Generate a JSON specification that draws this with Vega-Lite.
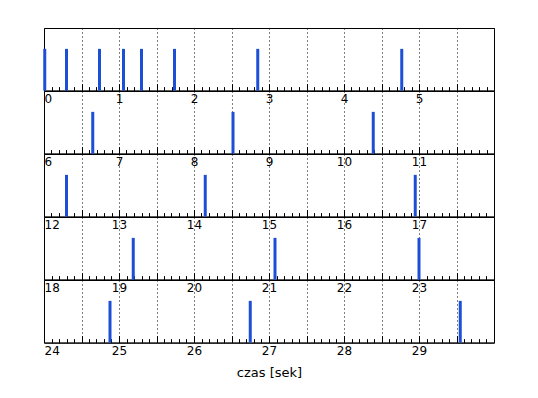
{
  "$schema": "https://vega.github.io/schema/vega-lite/v6.json",
  "background": "white",
  "padding": {"left": 42, "top": 27, "right": 20, "bottom": 10},
  "spacing": 0,
  "bounds": "flush",
  "data": {"values": [
    {"t": 0.01, "v": 1}, {"t": 0.30, "v": 1}, {"t": 0.74, "v": 1}, {"t": 1.06, "v": 1},
    {"t": 1.30, "v": 1}, {"t": 1.74, "v": 1}, {"t": 2.85, "v": 1}, {"t": 4.77, "v": 1},
    {"t": 6.65, "v": 1}, {"t": 8.52, "v": 1}, {"t": 10.39, "v": 1},
    {"t": 12.30, "v": 1}, {"t": 14.15, "v": 1}, {"t": 16.95, "v": 1},
    {"t": 19.19, "v": 1}, {"t": 21.08, "v": 1}, {"t": 23.00, "v": 1},
    {"t": 24.88, "v": 1}, {"t": 26.75, "v": 1}, {"t": 29.55, "v": 1}
  ]},
  "config": {
    "view": {"stroke": "black", "strokeWidth": 1},
    "axisX": {
      "grid": true, "gridColor": "black", "gridDash": [1, 3], "gridWidth": 1,
      "domainColor": "black", "tickColor": "black", "tickWidth": 1,
      "tickCount": 60, "labelOverlap": false, "labelBound": false, "labelFlush": true,
      "labelFont": "DejaVu Sans", "labelFontSize": 12, "labelColor": "black", "labelPadding": 10,
      "labelExpr": "datum.index < 0.999 && abs(datum.value - round(datum.value)) < 0.001 ? format(datum.value, 'd') : ''",
      "titleFont": "DejaVu Sans", "titleFontSize": 13, "titleFontWeight": "normal", "titleColor": "black"
    }
  },
  "vconcat": [
    {
      "width": 450, "height": 62.6,
      "transform": [{"filter": "datum.t >= 0 && datum.t < 6"}],
      "mark": {"type": "rule", "strokeWidth": 3, "color": "#1c4fd6"},
      "encoding": {
        "x": {"field": "t", "type": "quantitative", "scale": {"domain": [0, 6], "nice": false, "zero": false},
          "axis": {"title": null,
            "tickSize": {"condition": {"test": "abs(datum.value*2 - round(datum.value*2)) < 0.001", "value": -7}, "value": -4},
            "gridOpacity": {"condition": {"test": "abs(datum.value*2 - round(datum.value*2)) < 0.001", "value": 1}, "value": 0}}},
        "y": {"field": "v", "type": "quantitative", "scale": {"domain": [0, 1.5]}, "axis": null},
        "y2": {"datum": 0}
      }
    },
    {
      "width": 450, "height": 62.6,
      "transform": [{"filter": "datum.t >= 6 && datum.t < 12"}],
      "mark": {"type": "rule", "strokeWidth": 3, "color": "#1c4fd6"},
      "encoding": {
        "x": {"field": "t", "type": "quantitative", "scale": {"domain": [6, 12], "nice": false, "zero": false},
          "axis": {"title": null,
            "tickSize": {"condition": {"test": "abs(datum.value*2 - round(datum.value*2)) < 0.001", "value": -7}, "value": -4},
            "gridOpacity": {"condition": {"test": "abs(datum.value*2 - round(datum.value*2)) < 0.001", "value": 1}, "value": 0}}},
        "y": {"field": "v", "type": "quantitative", "scale": {"domain": [0, 1.5]}, "axis": null},
        "y2": {"datum": 0}
      }
    },
    {
      "width": 450, "height": 62.6,
      "transform": [{"filter": "datum.t >= 12 && datum.t < 18"}],
      "mark": {"type": "rule", "strokeWidth": 3, "color": "#1c4fd6"},
      "encoding": {
        "x": {"field": "t", "type": "quantitative", "scale": {"domain": [12, 18], "nice": false, "zero": false},
          "axis": {"title": null,
            "tickSize": {"condition": {"test": "abs(datum.value*2 - round(datum.value*2)) < 0.001", "value": -7}, "value": -4},
            "gridOpacity": {"condition": {"test": "abs(datum.value*2 - round(datum.value*2)) < 0.001", "value": 1}, "value": 0}}},
        "y": {"field": "v", "type": "quantitative", "scale": {"domain": [0, 1.5]}, "axis": null},
        "y2": {"datum": 0}
      }
    },
    {
      "width": 450, "height": 62.6,
      "transform": [{"filter": "datum.t >= 18 && datum.t < 24"}],
      "mark": {"type": "rule", "strokeWidth": 3, "color": "#1c4fd6"},
      "encoding": {
        "x": {"field": "t", "type": "quantitative", "scale": {"domain": [18, 24], "nice": false, "zero": false},
          "axis": {"title": null,
            "tickSize": {"condition": {"test": "abs(datum.value*2 - round(datum.value*2)) < 0.001", "value": -7}, "value": -4},
            "gridOpacity": {"condition": {"test": "abs(datum.value*2 - round(datum.value*2)) < 0.001", "value": 1}, "value": 0}}},
        "y": {"field": "v", "type": "quantitative", "scale": {"domain": [0, 1.5]}, "axis": null},
        "y2": {"datum": 0}
      }
    },
    {
      "width": 450, "height": 62.6,
      "transform": [{"filter": "datum.t >= 24 && datum.t < 30"}],
      "mark": {"type": "rule", "strokeWidth": 3, "color": "#1c4fd6"},
      "encoding": {
        "x": {"field": "t", "type": "quantitative", "scale": {"domain": [24, 30], "nice": false, "zero": false},
          "axis": {"title": "czas [sek]", "titlePadding": 7,
            "tickSize": {"condition": {"test": "abs(datum.value*2 - round(datum.value*2)) < 0.001", "value": -7}, "value": -4},
            "gridOpacity": {"condition": {"test": "abs(datum.value*2 - round(datum.value*2)) < 0.001", "value": 1}, "value": 0}}},
        "y": {"field": "v", "type": "quantitative", "scale": {"domain": [0, 1.5]}, "axis": null},
        "y2": {"datum": 0}
      }
    }
  ]
}
